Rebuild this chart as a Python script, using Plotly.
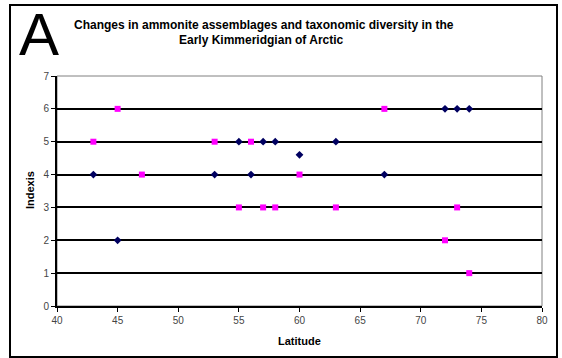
import plotly.graph_objects as go

# Data
series_a_lat = [43, 45, 53, 55, 56, 57, 58, 60, 63, 67, 72, 73, 74]
series_a_idx = [4, 2, 4, 5, 4, 5, 5, 4.6, 5, 4, 6, 6, 6]

series_b_lat = [43, 45, 47, 53, 56, 55, 57, 58, 60, 63, 67, 73, 72, 74]
series_b_idx = [5, 6, 4, 5, 5, 3, 3, 3, 4, 3, 6, 3, 2, 1]

x_ticks = [40, 45, 50, 55, 60, 65, 70, 75, 80]
y_ticks = [0, 1, 2, 3, 4, 5, 6, 7]

title_line1 = "Changes in ammonite assemblages and taxonomic diversity in the"
title_line2 = "Early Kimmeridgian of Arctic"
panel_letter = "A"
x_title = "Latitude"
y_title = "Indexis"

W, H = 562, 358
L, R, T, B = 57, 20, 76, 52
pw, ph = W - L - R, H - T - B


def px(x):
    return (x - L) / pw


def py(y):
    return (H - B - y) / ph


fig = go.Figure()

fig.add_trace(go.Scatter(
    x=series_b_lat, y=series_b_idx, mode="markers",
    marker=dict(symbol="square", size=6, color="#ff00ff"),
    showlegend=False, cliponaxis=False,
))
fig.add_trace(go.Scatter(
    x=series_a_lat, y=series_a_idx, mode="markers",
    marker=dict(symbol="diamond", size=6, color="#000060"),
    showlegend=False, cliponaxis=False,
))

font_family = "Liberation Sans, Arial, sans-serif"

fig.update_layout(
    width=W, height=H,
    margin=dict(l=L, r=R, t=T, b=B),
    paper_bgcolor="white", plot_bgcolor="white",
    font=dict(family=font_family, size=9, color="#222"),
    xaxis=dict(
        range=[40, 80], tickvals=x_ticks, showgrid=False, zeroline=False,
        showline=True, linecolor="black", linewidth=2,
        ticks="outside", ticklen=4, tickcolor="black", tickwidth=1,
        tickfont=dict(size=10, color="#444"),
    ),
    yaxis=dict(
        range=[0, 7], tickvals=y_ticks, showgrid=True, gridcolor="black",
        gridwidth=2, zeroline=False,
        showline=True, linecolor="black", linewidth=2,
        ticks="outside", ticklen=4, tickcolor="black", tickwidth=1,
        tickfont=dict(size=10, color="#444"),
    ),
    shapes=[
        # plot area border (gray top/right)
        dict(type="rect", xref="paper", yref="paper", x0=0, x1=1, y0=0, y1=1,
             line=dict(color="#808080", width=1), layer="below"),
        # outer frame
        dict(type="rect", xref="paper", yref="paper",
             x0=px(10), x1=px(557), y0=py(357), y1=py(5),
             line=dict(color="black", width=2)),
    ],
    annotations=[
        dict(text=panel_letter, xref="paper", yref="paper",
             x=px(39), y=py(35), xanchor="center", yanchor="middle",
             showarrow=False, font=dict(size=60, color="black", family=font_family)),
        dict(text="<b>" + title_line1 + "</b>", xref="paper", yref="paper",
             x=px(264), y=py(25), xanchor="center", yanchor="middle",
             showarrow=False, font=dict(size=12, color="black", family=font_family)),
        dict(text="<b>" + title_line2 + "</b>", xref="paper", yref="paper",
             x=px(261), y=py(40), xanchor="center", yanchor="middle",
             showarrow=False, font=dict(size=12, color="black", family=font_family)),
        dict(text="<b>" + x_title + "</b>", xref="paper", yref="paper",
             x=px(299), y=py(341), xanchor="center", yanchor="middle",
             showarrow=False, font=dict(size=11, color="black", family=font_family)),
        dict(text="<b>" + y_title + "</b>", xref="paper", yref="paper",
             x=px(30), y=py(190), xanchor="center", yanchor="middle", textangle=-90,
             showarrow=False, font=dict(size=11, color="black", family=font_family)),
    ],
)

fig.write_html(
    "out.html",
    config={"displayModeBar": False},
    post_script="document.body.style.margin='0';document.body.style.overflow='hidden';",
)
